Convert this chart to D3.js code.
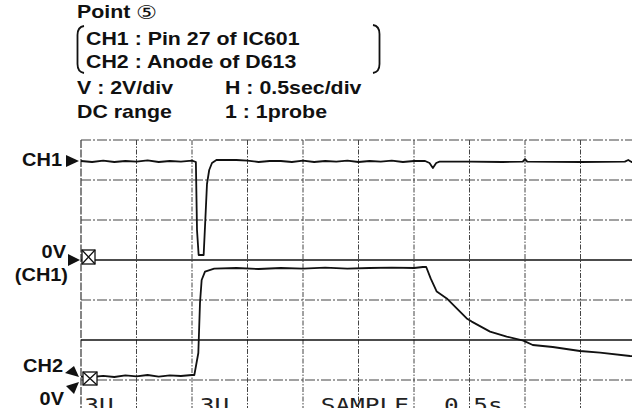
<!DOCTYPE html>
<html>
<head>
<meta charset="utf-8">
<script src="https://cdn.jsdelivr.net/npm/d3@7"></script>
<style>
  html, body { margin: 0; padding: 0; background: #fff; }
  svg { display: block; }
</style>
</head>
<body>
<svg id="scope" width="632" height="408"></svg>
<script>
// Header block
const titleText = "Point ";
const titleMark = "⑤";
const probeLines = ["CH1 : Pin 27 of IC601", "CH2 : Anode of D613"];
const settingLeft = ["V : 2V/div", "DC range"];
const settingRight = ["H : 0.5sec/div", "1 : 1probe"];

// Screen readout along the bottom edge
const readoutTexts = ["3U", "3U", "SAMPLE", "0.5s"];
const readoutTimes = [0.03, 1.07, 2.16, 3.27];   // seconds (left edge of each word)

// Scope settings
const secPerDiv = 0.5;
const hDivs = 10;
const vDivs = 8;
const voltsPerDiv = 2;

// CH1 : Pin 27 of IC601  [time s, volts]
const ch1Time = [0, 0.1, 0.2, 0.3, 0.4, 0.5, 0.6, 0.7, 0.8, 0.9, 1.0, 1.035, 1.045, 1.06, 1.105, 1.12, 1.135, 1.155, 1.18, 1.22,
  1.4, 1.5, 1.6, 1.7, 1.8, 1.9, 2.0, 2.1, 2.2, 2.3, 2.4, 2.5, 2.6, 2.7, 2.8, 2.9, 3.0, 3.1, 3.14, 3.17, 3.2, 3.23,
  3.5, 3.8, 3.98, 4.0, 4.02, 4.5, 4.9, 4.93, 4.96, 5.0];
const ch1Volts = [4.95, 4.9, 4.97, 4.9, 4.95, 4.92, 4.98, 4.9, 4.95, 4.92, 4.97, 4.9, 1.5, 0.25, 0.25, 2.0, 3.8, 4.5, 4.85, 5.0,
  5.0, 4.97, 4.9, 4.95, 4.95, 4.9, 4.97, 4.9, 4.95, 4.92, 4.97, 4.9, 4.95, 4.92, 4.97, 4.9, 4.95, 4.95, 4.85, 4.6, 4.85, 4.92,
  4.92, 4.9, 4.92, 5.05, 4.92, 4.9, 4.92, 5.0, 4.9, 4.9];

// CH2 : Anode of D613  [time s, volts]
const ch2Time = [0, 0.1, 0.2, 0.3, 0.4, 0.5, 0.6, 0.7, 0.8, 0.9, 1.0, 1.021, 1.057, 1.072, 1.087, 1.117, 1.2,
  1.4, 1.6, 1.8, 2.0, 2.2, 2.4, 2.6, 2.8, 3.0, 3.08, 3.11, 3.15, 3.205,
  3.295, 3.475, 3.52, 3.685, 3.835, 3.985, 4.07, 4.25, 4.495, 4.676, 4.946, 5.0];
const ch2Volts = [0.02, 0.0, 0.06, 0.0, 0.08, 0.03, 0.1, 0.02, 0.08, 0.05, 0.1, 0.1, 1.2, 3.7, 4.85, 5.27, 5.42,
  5.45, 5.4, 5.45, 5.42, 5.47, 5.42, 5.45, 5.47, 5.45, 5.5, 5.5, 4.93, 4.27,
  3.93, 2.93, 2.77, 2.27, 2.02, 1.82, 1.6, 1.5, 1.3, 1.22, 1.05, 1.03];

const svg = d3.select("#scope");

// Graticule geometry
const gLeft = 81, gTop = 140, divW = 55.5, divH = 40;
const x = d3.scaleLinear().domain([0, hDivs * secPerDiv]).range([gLeft, gLeft + hDivs * divW]);
const yDiv = d3.scaleLinear().domain([0, vDivs]).range([gTop, gTop + vDivs * divH]);

// Each channel's zero level, in divisions from the top of the screen
const ch1Zero = 3, ch2Zero = 5.925;
const yCh = zero => d3.scaleLinear()
  .domain([-(vDivs - zero) * voltsPerDiv, zero * voltsPerDiv])
  .range([gTop + vDivs * divH, gTop]);
const y1 = yCh(ch1Zero), y2 = yCh(ch2Zero);

// Vertical graticule lines
svg.append("g").selectAll("line")
  .data(d3.range(0, hDivs + 1).map(i => i * secPerDiv))
  .join("line")
  .attr("x1", d => x(d)).attr("x2", d => x(d))
  .attr("y1", gTop).attr("y2", 408)
  .attr("stroke", "#444")
  .attr("stroke-width", d => d === 0 ? 1.3 : 1)
  .attr("stroke-dasharray", d => d === 0 ? "8,1.5" : "5,1.5,1.5,1.5");

// Horizontal graticule lines
const solidRows = [3, 5];
svg.append("g").selectAll("line")
  .data(d3.range(0, vDivs))
  .join("line")
  .attr("x1", gLeft).attr("x2", 632)
  .attr("y1", d => yDiv(d)).attr("y2", d => yDiv(d))
  .attr("stroke", d => solidRows.includes(d) ? "#111" : "#444")
  .attr("stroke-width", d => solidRows.includes(d) ? 1.4 : 1.2)
  .attr("stroke-dasharray", d => solidRows.includes(d) ? null : "10,2,2,2");

// Traces
const line = yS => d3.line().x(d => x(d[0])).y(d => yS(d[1])).curve(d3.curveLinear);
svg.append("path")
  .datum(ch1Time.map((t, i) => [t, ch1Volts[i]]))
  .attr("d", line(y1))
  .attr("fill", "none").attr("stroke", "#111").attr("stroke-width", 1.8)
  .attr("stroke-linejoin", "round");
svg.append("path")
  .datum(ch2Time.map((t, i) => [t, ch2Volts[i]]))
  .attr("d", line(y2))
  .attr("fill", "none").attr("stroke", "#111").attr("stroke-width", 1.8)
  .attr("stroke-linejoin", "round");

// Header text (horizontally widened lettering)
const hs = 1.22, hf = 17.5;
const header = svg.append("g")
  .attr("font-family", "'Liberation Sans', Arial, Helvetica, sans-serif")
  .attr("font-weight", "bold").attr("font-size", hf).attr("fill", "#111");
function hText(tx, ty, str) {
  return header.append("text")
    .attr("transform", `translate(${tx},${ty}) scale(${hs},1)`)
    .text(str);
}
const t0 = hText(77, 18, titleText);
t0.append("tspan")
  .attr("font-weight", "normal").attr("font-size", 19).attr("dy", 1)
  .attr("font-family", "'DejaVu Sans', 'Noto Sans CJK JP', sans-serif")
  .text(titleMark);
hText(86, 45, probeLines[0]);
hText(86, 68, probeLines[1]);
hText(77, 94, settingLeft[0]);
hText(225, 94, settingRight[0]);
hText(77, 118, settingLeft[1]);
hText(225, 118, settingRight[1]);

// Tall brackets round the probe lines
header.append("path")
  .attr("d", "M84,26 Q77.5,27 77.5,35 L77.5,64 Q77.5,72 84,73")
  .attr("fill", "none").attr("stroke", "#111").attr("stroke-width", 1.8);
header.append("path")
  .attr("d", "M373,25 Q379.5,26 379.5,34 L379.5,64 Q379.5,72 373,73")
  .attr("fill", "none").attr("stroke", "#111").attr("stroke-width", 1.8);

// Channel labels on the left
const ls = 1.14;
const labels = svg.append("g")
  .attr("font-family", "'Liberation Sans', Arial, Helvetica, sans-serif")
  .attr("font-weight", "bold").attr("font-size", 17.5).attr("fill", "#111")
  .attr("text-anchor", "end");
[["CH1", 62, 166], ["0V", 66, 258], ["(CH1)", 68, 281], ["CH2", 63, 372], ["0V", 64, 405]]
  .forEach(([s, tx, ty]) => labels.append("text")
    .attr("transform", `translate(${tx},${ty}) scale(${ls},1)`).text(s));

// Level markers
const markers = svg.append("g").attr("fill", "#111");
const ch1Y = y1(ch1Volts[0]);
markers.append("path").attr("d", `M66,${ch1Y - 6} L66,${ch1Y + 6} L79,${ch1Y} Z`);
const z1 = y1(0);
markers.append("path").attr("d", `M68,${z1 - 6} L68,${z1 + 6} L80,${z1} Z`);
const z2 = y2(0);
// CH2 position arrow (down-right) and 0V arrow (up-right)
markers.append("path").attr("d", `M79,${z2} L65,${z2 - 4} L74,${z2 - 11} Z`);
markers.append("path").attr("d", `M79,${z2 + 5} L74,${z2 + 17} L66,${z2 + 9} Z`);

// Ground-reference boxes
function groundBox(bx, by, w, h) {
  const g = svg.append("g").attr("fill", "#fff").attr("stroke", "#111").attr("stroke-width", 1.3);
  g.append("rect").attr("x", bx).attr("y", by).attr("width", w).attr("height", h);
  g.append("path").attr("fill", "none")
    .attr("d", `M${bx},${by} L${bx + w},${by + h} M${bx},${by + h} L${bx + w},${by}`);
}
groundBox(82, z1 - 10, 13, 14);
groundBox(83, z2 - 5, 14, 13);

// Bottom readout
const readout = svg.append("g")
  .attr("font-family", "'DejaVu Sans Mono', 'Liberation Mono', monospace")
  .attr("font-size", 20).attr("fill", "#222");
readoutTexts.forEach((s, i) => readout.append("text")
  .attr("transform", `translate(${x(readoutTimes[i])},412) scale(1.22,1)`)
  .text(s));
</script>
</body>
</html>
